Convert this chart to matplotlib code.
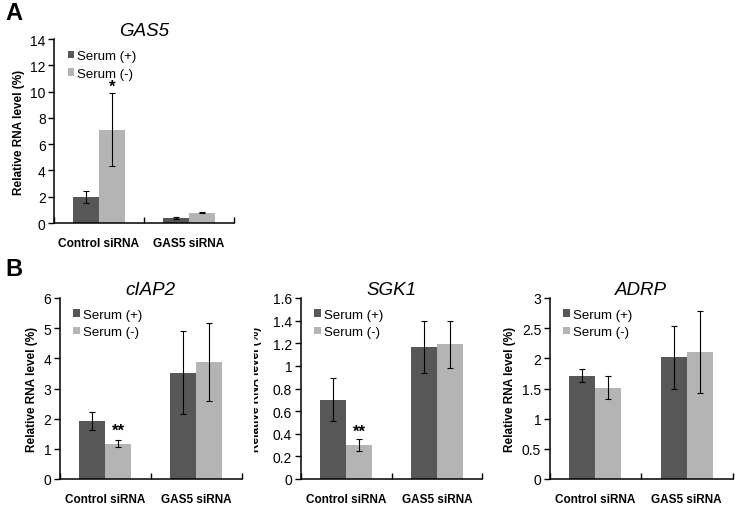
import matplotlib.pyplot as plt
from matplotlib.transforms import Bbox
import numpy as np

plt.rcParams['font.family'] = ['Liberation Sans', 'DejaVu Sans']

groups = ['Control siRNA', 'GAS5 siRNA']
series = ['Serum (+)', 'Serum (-)']

# values per gene: [control, GAS5] for Serum(+) and Serum(-)
gas5_plus = [1.95, 0.40]
gas5_minus = [7.10, 0.78]
gas5_plus_err = [0.45, 0.07]
gas5_minus_err = [2.80, 0.05]

ciap2_plus = [1.93, 3.53]
ciap2_minus = [1.17, 3.88]
ciap2_plus_err = [0.29, 1.37]
ciap2_minus_err = [0.11, 1.29]

sgk1_plus = [0.70, 1.17]
sgk1_minus = [0.30, 1.19]
sgk1_plus_err = [0.19, 0.23]
sgk1_minus_err = [0.05, 0.21]

adrp_plus = [1.71, 2.02]
adrp_minus = [1.51, 2.10]
adrp_plus_err = [0.11, 0.52]
adrp_minus_err = [0.19, 0.68]

dark = '#575757'
light = '#b4b4b4'


def bar_panel(ax, title, plus, minus, perr, merr, ymax, ystep, stars=None, star_y=None,
              ylabel=True, xfs=8.5):
    x = np.arange(len(groups))
    w = 0.285
    ax.bar(x - w / 2, plus, w, color=dark, label=series[0])
    ax.bar(x + w / 2, minus, w, color=light, label=series[1])
    ax.errorbar(x - w / 2, plus, yerr=perr, fmt='none', ecolor='black',
                elinewidth=0.8, capsize=2.5, capthick=0.8)
    ax.errorbar(x + w / 2, minus, yerr=merr, fmt='none', ecolor='black',
                elinewidth=0.8, capsize=2.5, capthick=0.8)
    ax.set_xlim(-0.5, 1.5)
    ax.set_ylim(0, ymax)
    ticks = np.arange(0, ymax + ystep / 2, ystep)
    ax.set_yticks(ticks)
    ax.set_yticklabels(['%g' % round(v, 2) for v in ticks], fontsize=10)
    ax.set_xticks(x)
    ax.set_xticklabels(groups, fontsize=xfs, fontweight='bold')
    ax.tick_params(axis='x', length=0, pad=10)
    ax.set_xticks([-0.5, 0.5, 1.5], minor=True)
    ax.tick_params(axis='x', which='minor', length=4, direction='in', width=1)
    ax.tick_params(axis='y', length=4, width=1, direction='out', pad=2)
    for s in ['top', 'right']:
        ax.spines[s].set_visible(False)
    for s in ['left', 'bottom']:
        ax.spines[s].set_linewidth(1.1)
    ax.set_title(title, fontsize=13.5, fontstyle='italic', pad=2)
    if ylabel:
        ax.set_ylabel('Relative RNA level (%)', fontsize=8.5, fontweight='bold', labelpad=4)
    ax.legend(loc='upper left', bbox_to_anchor=(0.075, 0.94), frameon=False, fontsize=9.5,
              handlelength=0.5, handleheight=0.5, handletextpad=0.25, labelspacing=0.42,
              borderaxespad=0, borderpad=0)
    if stars:
        ax.text(x[0] + w / 2, star_y, stars, ha='center', va='center', fontsize=12,
                fontweight='bold')


fig = plt.figure(figsize=(7.35, 5.06), dpi=100)

axA = fig.add_axes([54 / 735, 1 - 224 / 506, 180 / 735, 184 / 506])
bar_panel(axA, 'GAS5', gas5_plus, gas5_minus, gas5_plus_err, gas5_minus_err, 14, 2,
          '*', 10.4, xfs=8.6)

axB1 = fig.add_axes([59.5 / 735, 1 - 480 / 506, 182 / 735, 181 / 506])
bar_panel(axB1, 'cIAP2', ciap2_plus, ciap2_minus, ciap2_plus_err, ciap2_minus_err, 6, 1,
          '**', 1.6)

axB2 = fig.add_axes([300.5 / 735, 1 - 480 / 506, 182 / 735, 181 / 506])
bar_panel(axB2, 'SGK1', sgk1_plus, sgk1_minus, sgk1_plus_err, sgk1_minus_err, 1.6, 0.2,
          '**', 0.42, ylabel=False)
# the SGK1 axis title is cut off in the original figure
sgk_label = fig.text(256 / 735, 1 - 389 / 506, 'Relative RNA level (%)', fontsize=8.5,
                     fontweight='bold', rotation=90, ha='center', va='center')
sgk_label.set_clip_box(Bbox([[254, 0], [264, 506]]))
sgk_label.set_clip_on(True)

axB3 = fig.add_axes([549.5 / 735, 1 - 480 / 506, 183 / 735, 181 / 506])
bar_panel(axB3, 'ADRP', adrp_plus, adrp_minus, adrp_plus_err, adrp_minus_err, 3, 0.5)

fig.text(5 / 735, 1 - 20 / 506, 'A', fontsize=17, fontweight='bold')
fig.text(5 / 735, 1 - 276 / 506, 'B', fontsize=17, fontweight='bold')

fig.savefig('out.png', dpi=100, facecolor='white')
